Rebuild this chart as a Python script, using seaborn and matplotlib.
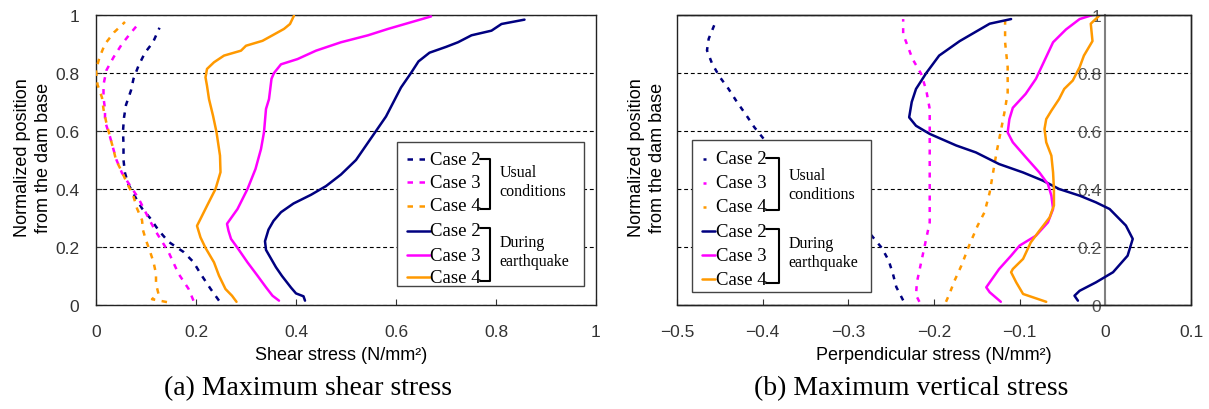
import matplotlib
matplotlib.use("Agg")
import matplotlib.pyplot as plt
import seaborn as sns
from matplotlib.lines import Line2D
from matplotlib.patches import Rectangle

# ---------------- data: (a) maximum shear stress ----------------
shear_usual_c2_y = [0.015, 0.056, 0.108, 0.148, 0.183, 0.218, 0.258, 0.30, 0.333, 0.368, 0.415, 0.455, 0.50,
                    0.553, 0.60, 0.646, 0.69, 0.74, 0.78, 0.825, 0.87, 0.906, 0.956]
shear_usual_c2_x = [0.246, 0.229, 0.209, 0.195, 0.175, 0.145, 0.125, 0.108, 0.092, 0.080, 0.065, 0.058, 0.055,
                    0.055, 0.054, 0.056, 0.060, 0.070, 0.075, 0.085, 0.098, 0.114, 0.127]

shear_usual_c3_y = [0.015, 0.056, 0.108, 0.183, 0.258, 0.30, 0.368, 0.42, 0.455, 0.50, 0.536, 0.58, 0.634,
                    0.675, 0.715, 0.76, 0.81, 0.854, 0.90, 0.935, 0.976]
shear_usual_c3_x = [0.195, 0.185, 0.165, 0.145, 0.118, 0.105, 0.085, 0.065, 0.052, 0.041, 0.035, 0.028, 0.018,
                    0.018, 0.015, 0.015, 0.021, 0.035, 0.052, 0.068, 0.088]

shear_usual_c4_y = [0.01, 0.02, 0.038, 0.073, 0.108, 0.148, 0.19, 0.223, 0.258, 0.293, 0.333, 0.38, 0.42, 0.455,
                    0.50, 0.536, 0.58, 0.634, 0.675, 0.715, 0.76, 0.81, 0.854, 0.90, 0.94, 0.976]
shear_usual_c4_x = [0.142, 0.112, 0.125, 0.120, 0.120, 0.115, 0.107, 0.100, 0.094, 0.092, 0.082, 0.074, 0.062,
                    0.053, 0.040, 0.035, 0.028, 0.020, 0.015, 0.012, 0.003, 0.000, 0.007, 0.018, 0.036, 0.058]

shear_eq_c2_y = [0.015, 0.03, 0.04, 0.06, 0.10, 0.13, 0.16, 0.19, 0.22, 0.26, 0.29, 0.32, 0.35, 0.38, 0.41,
                 0.45, 0.50, 0.55, 0.60, 0.65, 0.70, 0.75, 0.80, 0.84, 0.87, 0.89, 0.906, 0.93, 0.946, 0.969, 0.984]
shear_eq_c2_x = [0.418, 0.415, 0.40, 0.39, 0.372, 0.36, 0.35, 0.34, 0.338, 0.345, 0.355, 0.37, 0.395, 0.43, 0.46,
                 0.49, 0.52, 0.54, 0.56, 0.58, 0.595, 0.61, 0.63, 0.645, 0.667, 0.70, 0.724, 0.751, 0.791, 0.811,
                 0.857]

shear_eq_c3_y = [0.015, 0.032, 0.061, 0.101, 0.147, 0.197, 0.228, 0.256, 0.28, 0.331, 0.40, 0.469, 0.538, 0.596,
                 0.676, 0.71, 0.78, 0.80, 0.83, 0.848, 0.877, 0.906, 0.93, 0.952, 0.975, 0.995]
shear_eq_c3_x = [0.366, 0.353, 0.340, 0.323, 0.303, 0.283, 0.270, 0.265, 0.262, 0.283, 0.303, 0.319, 0.330,
                 0.336, 0.340, 0.346, 0.351, 0.356, 0.370, 0.403, 0.440, 0.490, 0.544, 0.584, 0.63, 0.67]

shear_eq_c4_y = [0.011, 0.032, 0.055, 0.101, 0.147, 0.197, 0.233, 0.273, 0.297, 0.342, 0.40, 0.458, 0.515,
                 0.596, 0.653, 0.71, 0.756, 0.785, 0.814, 0.837, 0.86, 0.877, 0.894, 0.911, 0.93, 0.952, 0.969,
                 0.998]
shear_eq_c4_x = [0.281, 0.272, 0.259, 0.246, 0.236, 0.219, 0.209, 0.202, 0.209, 0.222, 0.239, 0.249, 0.248,
                 0.241, 0.234, 0.226, 0.222, 0.219, 0.222, 0.236, 0.256, 0.290, 0.300, 0.333, 0.353, 0.376, 0.388,
                 0.396]

# ---------------- data: (b) maximum vertical stress ----------------
vert_usual_c2_y = [0.016, 0.062, 0.108, 0.154, 0.197, 0.24, 0.30, 0.40, 0.50, 0.57, 0.614, 0.654, 0.70, 0.746,
                   0.786, 0.832, 0.878, 0.918, 0.976]
vert_usual_c2_x = [-0.236, -0.244, -0.248, -0.253, -0.261, -0.273, -0.29, -0.33, -0.37, -0.398, -0.41, -0.419,
                   -0.43, -0.44, -0.45, -0.459, -0.465, -0.463, -0.455]

vert_usual_c3_y = [0.011, 0.034, 0.078, 0.147, 0.216, 0.285, 0.377, 0.503, 0.607, 0.676, 0.74, 0.797, 0.848,
                   0.934, 0.986]
vert_usual_c3_x = [-0.217, -0.221, -0.22, -0.215, -0.21, -0.205, -0.205, -0.205, -0.205, -0.205, -0.209, -0.215,
                   -0.225, -0.236, -0.236]

vert_usual_c4_y = [0.011, 0.038, 0.084, 0.136, 0.205, 0.274, 0.32, 0.388, 0.44, 0.526, 0.60, 0.676, 0.733, 0.82,
                   0.906, 0.98]
vert_usual_c4_x = [-0.186, -0.182, -0.176, -0.168, -0.159, -0.149, -0.141, -0.135, -0.132, -0.127, -0.122,
                   -0.117, -0.114, -0.114, -0.117, -0.117]

vert_eq_c2_y = [0.015, 0.032, 0.049, 0.078, 0.113, 0.17, 0.228, 0.274, 0.331, 0.354, 0.377, 0.40, 0.429, 0.457,
                0.486, 0.526, 0.55, 0.59, 0.618, 0.647, 0.70, 0.745, 0.80, 0.86, 0.91, 0.97, 0.986]
vert_eq_c2_x = [-0.032, -0.036, -0.030, -0.011, 0.009, 0.026, 0.032, 0.024, 0.005, -0.011, -0.030, -0.054,
                -0.073, -0.096, -0.124, -0.151, -0.174, -0.205, -0.221, -0.229, -0.226, -0.221, -0.209, -0.194,
                -0.17, -0.135, -0.11]

vert_eq_c3_y = [0.011, 0.044, 0.061, 0.124, 0.17, 0.205, 0.239, 0.285, 0.331, 0.377, 0.417, 0.457, 0.51, 0.561,
                0.595, 0.641, 0.68, 0.728, 0.78, 0.843, 0.906, 0.95, 0.986, 1.0]
vert_eq_c3_x = [-0.122, -0.135, -0.139, -0.124, -0.11, -0.10, -0.081, -0.067, -0.061, -0.063, -0.067, -0.077,
                -0.093, -0.108, -0.114, -0.112, -0.108, -0.093, -0.081, -0.071, -0.061, -0.046, -0.030, -0.015]

vert_eq_c4_y = [0.011, 0.023, 0.038, 0.078, 0.113, 0.124, 0.159, 0.216, 0.256, 0.302, 0.343, 0.40, 0.457, 0.515,
                0.561, 0.607, 0.641, 0.67, 0.71, 0.745, 0.774, 0.82, 0.86, 0.91, 0.97, 0.998]
vert_eq_c4_x = [-0.069, -0.081, -0.096, -0.104, -0.11, -0.108, -0.096, -0.087, -0.077, -0.065, -0.060, -0.060,
                -0.061, -0.063, -0.069, -0.071, -0.069, -0.063, -0.054, -0.048, -0.038, -0.030, -0.025, -0.015,
                -0.017, -0.007]

case_labels = ["Case 2", "Case 3", "Case 4"]
group_labels = ["Usual\nconditions", "During\nearthquake"]
shear_ticks = [0, 0.2, 0.4, 0.6, 0.8, 1.0]
shear_ticklabels = ["0", "0.2", "0.4", "0.6", "0.8", "1"]
vert_ticks = [-0.5, -0.4, -0.3, -0.2, -0.1, 0.0, 0.1]
vert_ticklabels = ["\u22120.5", "\u22120.4", "\u22120.3", "\u22120.2", "\u22120.1", "0", "0.1"]
pos_ticks = [0, 0.2, 0.4, 0.6, 0.8, 1.0]
pos_ticklabels = ["0", "0.2", "0.4", "0.6", "0.8", "1"]

# ---------------- style ----------------
sns.set_theme(style="white")
plt.rcParams["font.family"] = ["Liberation Sans", "DejaVu Sans"]
SERIF = ["Liberation Serif", "DejaVu Serif"]
colors = ["#000080", "#FF00FF", "#FF9900"]
LW = 1.8

fig = plt.figure(figsize=(12.09, 4.10), dpi=100)
axL = fig.add_axes([96 / 1209, 104 / 410, 500 / 1209, 290 / 410])
axR = fig.add_axes([677 / 1209, 104 / 410, 514 / 1209, 290 / 410])


def draw(ax, xs, ys, color, dashed, dash):
    kw = dict(linestyle=(0, dash)) if dashed else dict(linestyle="-")
    sns.lineplot(x=xs, y=ys, sort=False, estimator=None, color=color, lw=LW, ax=ax,
                 legend=False, zorder=3, **kw)


shear_usual = [(shear_usual_c2_x, shear_usual_c2_y), (shear_usual_c3_x, shear_usual_c3_y),
               (shear_usual_c4_x, shear_usual_c4_y)]
shear_eq = [(shear_eq_c2_x, shear_eq_c2_y), (shear_eq_c3_x, shear_eq_c3_y), (shear_eq_c4_x, shear_eq_c4_y)]
vert_usual = [(vert_usual_c2_x, vert_usual_c2_y), (vert_usual_c3_x, vert_usual_c3_y),
              (vert_usual_c4_x, vert_usual_c4_y)]
vert_eq = [(vert_eq_c2_x, vert_eq_c2_y), (vert_eq_c3_x, vert_eq_c3_y), (vert_eq_c4_x, vert_eq_c4_y)]

for (xs, ys), c in zip(shear_usual, colors):
    draw(axL, xs, ys, c, True, (2.2, 2.6))
for (xs, ys), c in zip(shear_eq, colors):
    draw(axL, xs, ys, c, False, None)
for (xs, ys), c in zip(vert_usual, colors):
    draw(axR, xs, ys, c, True, (2.0, 2.6))
for (xs, ys), c in zip(vert_eq, colors):
    draw(axR, xs, ys, c, False, None)

tick_col = "#333333"
for ax in (axL, axR):
    ax.set_ylim(0, 1)
    ax.yaxis.grid(True, color="black", linestyle=(0, (3.5, 2.5)), linewidth=0.8)
    ax.xaxis.grid(False)
    ax.set_yticks(pos_ticks)
    ax.set_yticklabels(pos_ticklabels)
    ax.tick_params(axis="both", which="both", direction="in", length=4, width=0.8,
                   bottom=True, left=True, top=False, right=False, labelsize=12.5,
                   labelcolor=tick_col, color="#333333")
    ax.tick_params(axis="x", pad=14)
    for s in ax.spines.values():
        s.set_color("#222222")
        s.set_linewidth(1.0)
    ax.set_ylabel("Normalized position\nfrom the dam base", fontsize=13, color="black", linespacing=1.3)

axL.set_xlim(0, 1)
axL.set_xticks(shear_ticks)
axL.set_xticklabels(shear_ticklabels)
axL.tick_params(axis="y", pad=12)
axL.set_xlabel("Shear stress (N/mm\u00b2)", fontsize=13, color="black")
axL.xaxis.set_label_coords(0.49, -0.141)
axL.yaxis.set_label_coords(-0.088, 0.51)

axR.set_xlim(-0.5, 0.1)
axR.set_xticks(vert_ticks)
axR.set_xticklabels(vert_ticklabels)
axR.spines["left"].set_position(("data", 0))
axR.spines["left"].set_color("#808080")
axR.spines["left"].set_linewidth(1.5)
axR.tick_params(axis="y", pad=3, labelcolor="#555555")
axR.set_xlabel("Perpendicular stress (N/mm\u00b2)", fontsize=13, color="black")
axR.xaxis.set_label_coords(0.5, -0.141)
axR.yaxis.set_label_coords(-0.021, 0.51)
axR.add_patch(Rectangle((0, 0), 1, 1, transform=axR.transAxes, fill=False, ec="#222222", lw=1.0,
                        clip_on=False, zorder=4))


def custom_legend(ax, box, rows, hx, usual_hx, tx, bracket_x, brackets, group_y, gx, usual_dash):
    x0, x1, y0, y1 = box
    ax.add_patch(Rectangle((x0, y0), x1 - x0, y1 - y0, transform=ax.transAxes, fc="white",
                           ec="#444444", lw=1.0, zorder=8))
    for i in range(6):
        c = colors[i % 3]
        y = rows[i]
        if i < 3:
            ax.add_line(Line2D(usual_hx, [y, y], transform=ax.transAxes, color=c, lw=LW,
                               linestyle=(0, usual_dash), zorder=9))
        else:
            ax.add_line(Line2D(hx, [y, y], transform=ax.transAxes, color=c, lw=LW, zorder=9))
        ax.text(tx, y, case_labels[i % 3], transform=ax.transAxes, ha="left", va="center",
                fontsize=13.5, family=SERIF, color="black", zorder=10)
    bx0, bx1 = bracket_x
    for (ya, yb), gy, lab in zip(brackets, group_y, group_labels):
        ax.add_line(Line2D([bx0, bx1, bx1, bx0], [ya, ya, yb, yb], transform=ax.transAxes,
                           color="black", lw=1.5, zorder=10))
        ax.text(gx, gy, lab, transform=ax.transAxes, ha="left", va="center", fontsize=11.5,
                family=SERIF, color="black", linespacing=1.25, zorder=10)


custom_legend(axL, (0.601, 0.976, 0.067, 0.563),
              [0.503, 0.423, 0.342, 0.256, 0.172, 0.0955],
              [0.622, 0.667], [0.622, 0.667], 0.668,
              (0.768, 0.787), [(0.503, 0.331), (0.264, 0.084)], [0.425, 0.184], 0.807, (2.2, 2.6))

custom_legend(axR, (0.0286, 0.377, 0.045, 0.5676),
              [0.5045, 0.4207, 0.338, 0.254, 0.171, 0.088],
              [0.048, 0.0739], [0.0506, 0.0564], 0.0759,
              (0.173, 0.199), [(0.507, 0.3286), (0.263, 0.077)], [0.4166, 0.1807], 0.2165, (2.0, 2.6))

fig.text(307.5 / 1209, 0.052, "(a) Maximum shear stress", ha="center", va="center", fontsize=20,
         family=SERIF, color="black")
fig.text(911 / 1209, 0.052, "(b) Maximum vertical stress", ha="center", va="center", fontsize=20,
         family=SERIF, color="black")

fig.savefig("out.png", dpi=100, facecolor="white")
